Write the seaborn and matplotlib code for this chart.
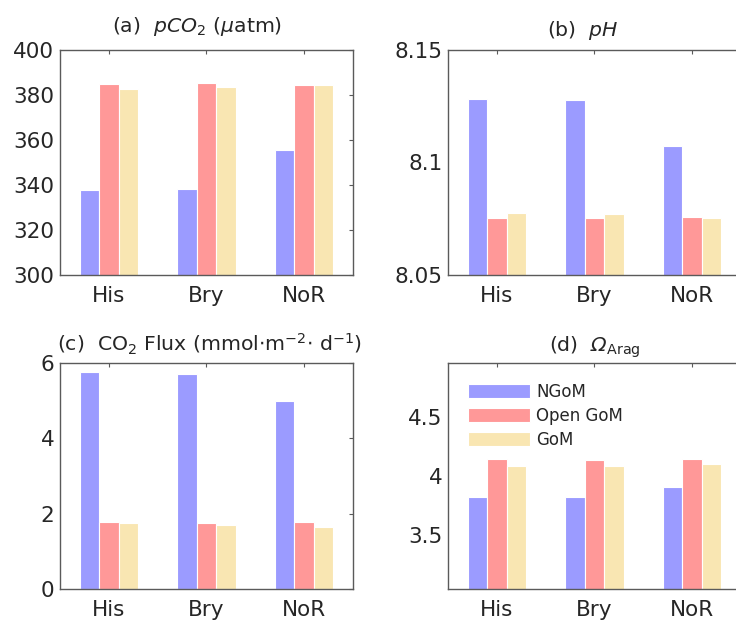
import matplotlib
matplotlib.use("Agg")
import matplotlib.pyplot as plt
import pandas as pd
import seaborn as sns

# Categories
runs = ["His", "Bry", "NoR"]
regions = ["NGoM", "Open GoM", "GoM"]

# pCO2 (uatm), one list per region, ordered like runs
pco2_ngom = [337.6, 338.1, 355.6]
pco2_open = [384.7, 385.3, 384.6]
pco2_gom = [382.8, 383.3, 384.6]

# pH
ph_ngom = [8.128, 8.1277, 8.1072]
ph_open = [8.0754, 8.0753, 8.0759]
ph_gom = [8.0775, 8.0771, 8.0754]

# CO2 flux (mmol m-2 d-1)
flux_ngom = [5.75, 5.72, 5.00]
flux_open = [1.79, 1.75, 1.79]
flux_gom = [1.76, 1.71, 1.65]

# Omega aragonite
omega_ngom = [3.824, 3.818, 3.909]
omega_open = [4.142, 4.136, 4.145]
omega_gom = [4.085, 4.088, 4.102]


def to_long(ngom, open_gom, gom):
    rows = []
    for vals, reg in zip([ngom, open_gom, gom], regions):
        for run, v in zip(runs, vals):
            rows.append({"run": run, "region": reg, "value": v})
    return pd.DataFrame(rows)


sns.set_style("white")
plt.rcParams["font.family"] = ["DejaVu Sans"]
plt.rcParams["mathtext.fontset"] = "dejavusans"
# fonte "custom" so para o Omega italico do painel (d)
plt.rcParams["mathtext.rm"] = "DejaVu Sans:italic"
plt.rcParams["mathtext.it"] = "DejaVu Sans:italic"
plt.rcParams["mathtext.sf"] = "DejaVu Sans"

cores = {"NGoM": "#9b9bff", "Open GoM": "#ff9898", "GoM": "#f9e6b2"}
txt = "#262626"
box = "#5a5a5a"

fig = plt.figure(figsize=(7.36, 6.2), dpi=100)
w, h = 0.398, 0.363
posicoes = [
    [0.0815, 0.5565, w, h],
    [0.6087, 0.5565, w, h],
    [0.0815, 0.050, w, 0.3645],
    [0.6087, 0.050, w, 0.3645],
]

# (dados, titulo, ylim, yticks, rotulos, pad titulo, x titulo, fonte math)
paineis = [
    (to_long(pco2_ngom, pco2_open, pco2_gom), r"(a)  $pCO_2$ ($\mu$atm)", (300, 400), [300, 320, 340, 360, 380, 400], None, 13, 0.468, "dejavusans"),
    (to_long(ph_ngom, ph_open, ph_gom), r"(b)  $pH$", (8.05, 8.15), [8.05, 8.1, 8.15], ["8.05", "8.1", "8.15"], 10, 0.46, "dejavusans"),
    (to_long(flux_ngom, flux_open, flux_gom), r"(c)  CO$_2$ Flux (mmol$\cdot$m$^{-2}$$\cdot$ d$^{-1}$)", (0, 6), [0, 2, 4, 6], None, 8, 0.512, "dejavusans"),
    (to_long(omega_ngom, omega_open, omega_gom), r"(d)  $\Omega_{\mathsf{Arag}}$", (3.04, 4.96), [3.5, 4, 4.5], ["3.5", "4", "4.5"], 8, 0.5, "custom"),
]

for i, (df, titulo, ylim, yticks, ylabels, pad_t, x_t, mfont) in enumerate(paineis):
    ax = fig.add_axes(posicoes[i])
    sns.barplot(data=df, x="run", y="value", hue="region", order=runs,
                hue_order=regions, palette=cores, width=0.6, ax=ax,
                edgecolor="white", linewidth=0.8, saturation=1, errorbar=None)
    ax.set_xlim(-0.5, 2.5)
    ax.set_ylim(*ylim)
    ax.set_yticks(yticks)
    if ylabels:
        ax.set_yticklabels(ylabels)
    ax.set_xlabel("")
    ax.set_ylabel("")
    t = ax.set_title(titulo, fontsize=14.7, color=txt, pad=pad_t, x=x_t)
    t.set_math_fontfamily(mfont)
    ax.tick_params(axis="both", direction="in", top=True, right=True,
                   length=2.6, width=0.8, colors=box, labelcolor=txt,
                   labelsize=15.5)
    ax.tick_params(axis="x", pad=8)
    ax.tick_params(axis="y", pad=4)
    for sp in ax.spines.values():
        sp.set_color(box)
        sp.set_linewidth(1.0)
    if i == 3:
        ax.legend(loc="upper left", frameon=False, fontsize=12,
                  handlelength=3.7, handleheight=0.9, labelspacing=0.35,
                  borderaxespad=0.8, handletextpad=0.4,
                  labelcolor=txt)
    else:
        ax.get_legend().remove()

fig.savefig("out.png", dpi=100)
